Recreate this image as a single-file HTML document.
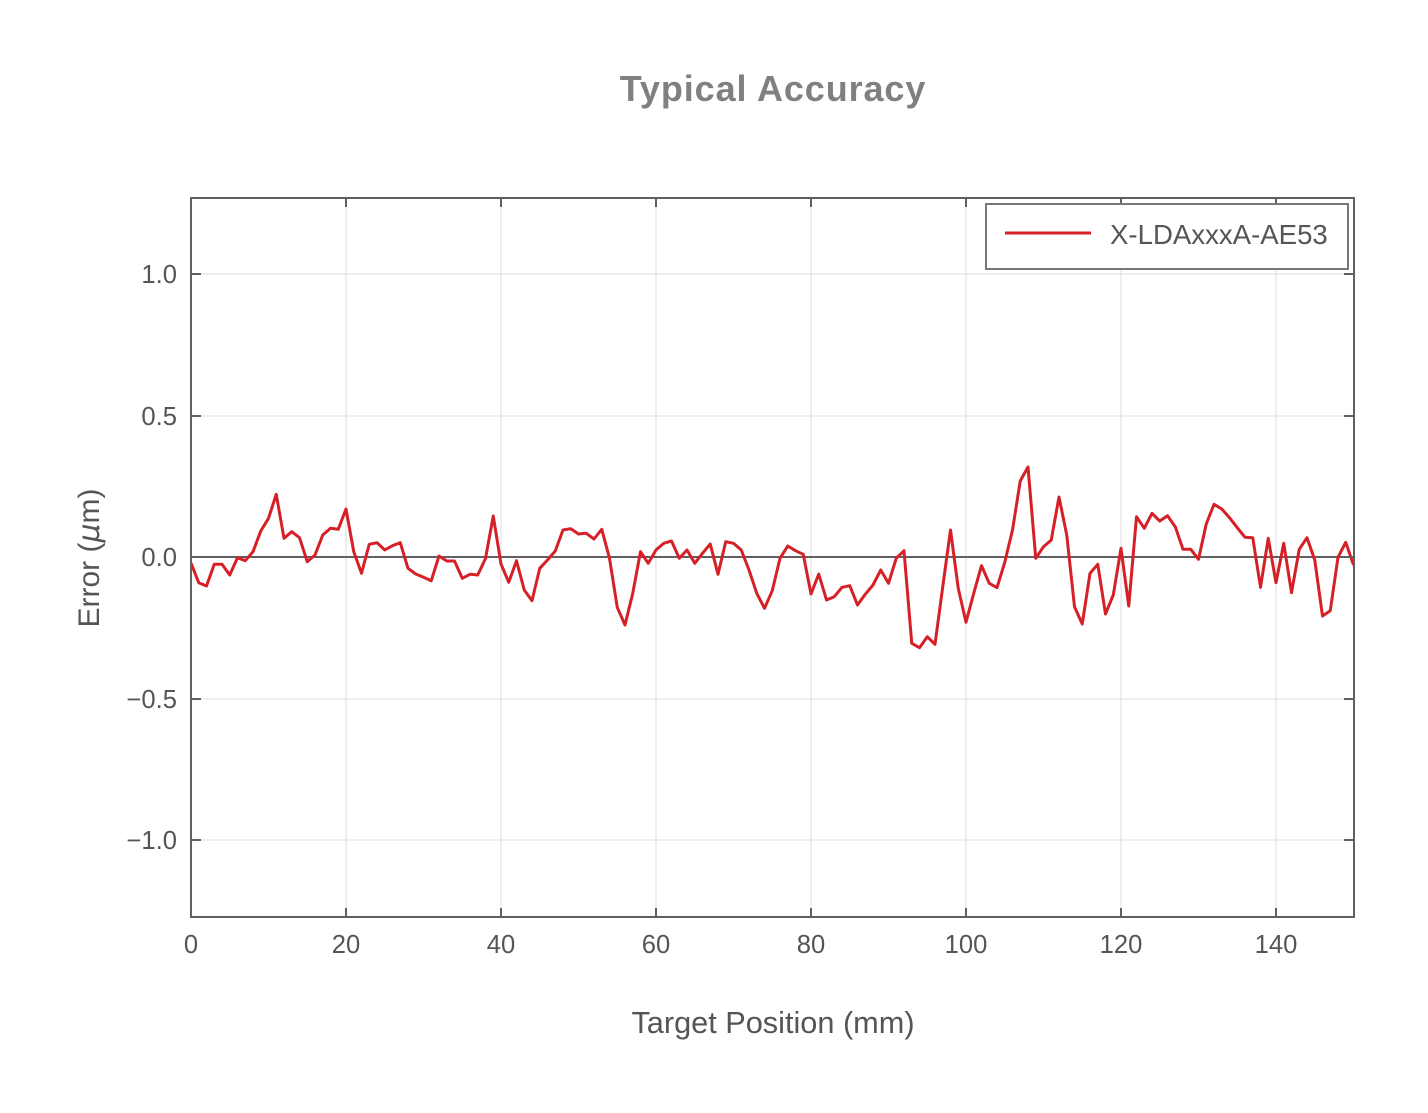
<!DOCTYPE html>
<html>
<head>
<meta charset="utf-8">
<style>
  html, body { margin: 0; padding: 0; background: #ffffff; }
  svg { display: block; }
  text { font-family: "Liberation Sans", Arial, sans-serif; fill: #555555; }
</style>
</head>
<body>
<svg width="1428" height="1113" viewBox="0 0 1428 1113" xmlns="http://www.w3.org/2000/svg">
  <rect x="0" y="0" width="1428" height="1113" fill="#ffffff"/>

  <!-- Title -->
  <text x="773" y="101" text-anchor="middle" font-size="36" font-weight="bold" letter-spacing="0.9" style="fill:#808080">Typical Accuracy</text>

  <!-- Grid -->
  <g stroke="#dddddd" stroke-width="1">
    <line x1="346" y1="198" x2="346" y2="917"/>
    <line x1="501" y1="198" x2="501" y2="917"/>
    <line x1="656" y1="198" x2="656" y2="917"/>
    <line x1="811" y1="198" x2="811" y2="917"/>
    <line x1="966" y1="198" x2="966" y2="917"/>
    <line x1="1121" y1="198" x2="1121" y2="917"/>
    <line x1="1276" y1="198" x2="1276" y2="917"/>
    <line x1="191" y1="274" x2="1354" y2="274"/>
    <line x1="191" y1="416" x2="1354" y2="416"/>
    <line x1="191" y1="699" x2="1354" y2="699"/>
    <line x1="191" y1="840" x2="1354" y2="840"/>
  </g>

  <!-- Zero line -->
  <line x1="191" y1="557" x2="1354" y2="557" stroke="#606060" stroke-width="2"/>

  <!-- Data -->
  <defs>
    <clipPath id="plotclip"><rect x="191" y="198" width="1163" height="719"/></clipPath>
  </defs>
  <polyline clip-path="url(#plotclip)" fill="none" stroke="#d62028" stroke-width="3" stroke-linejoin="round" points="
191,563 198.75,582.7 206.5,586 214.25,564.3 222,564.3 229.75,575 237.5,557.7 245.25,560.7 253,551.7 260.75,531
268.5,518.3 276.25,494.3 284,538.3 291.75,531.7 299.5,537.7 307.25,561.7 315,555 322.75,535 330.5,528.3 338.25,529.3
346,509 353.75,551.7 361.5,573.3 369.25,544.3 377,542.7 384.75,550 392.5,545.7 400.25,542.7 408,568.3 415.75,574
423.5,577.3 431.25,580.7 439,556 446.75,561 454.5,561 462.25,578.3 470,574.3 477.75,575 485.5,558.5 493.25,516
501,564 508.75,582.3 516.5,560.7 524.25,590 532,600.7 539.75,568.3 547.5,560 555.25,551 563,530 570.75,528.7
578.5,534 586.25,533.3 594,539 601.75,529.3 609.5,558.3 617.25,607.3 625,625 632.75,593.3 640.5,551.7 648.25,563.3
656,550 663.75,543.3 671.5,541 679.25,558.3 687,550 694.75,563.3 702.5,553.3 710.25,544 718,574.3 725.75,541.7
733.5,543.3 741.25,550 749,570 756.75,593.3 764.5,608.3 772.25,590.7 780,558.3 787.75,546 795.5,550.7 803.25,554.3
811,594 818.75,574 826.5,600 834.25,596.7 842,587.3 849.75,585.7 857.5,605 865.25,594.3 873,585 880.75,570
888.5,583.3 896.25,558.3 904,550.7 911.75,643.3 919.5,647.7 927.25,636.7 935,644.3 942.75,586.7 950.5,530 958.25,588.3
966,622.3 973.75,593.3 981.5,565.7 989.25,583.3 997,587.7 1004.75,562.3 1012.5,530 1020.25,481 1028,467 1035.75,558.3
1043.5,546.7 1051.25,540 1059,497 1066.75,535 1074.5,606.7 1082.25,624 1090,573.3 1097.75,564.3 1105.5,614 1113.25,595
1121,548.3 1128.75,606 1136.5,516.7 1144.25,528.3 1152,513.3 1159.75,521 1167.5,515.7 1175.25,526.7 1183,549.3 1190.75,549.3
1198.5,559.3 1206.25,524 1214,504.3 1221.75,509 1229.5,517.7 1237.25,527.7 1245,537.3 1252.75,537.7 1260.5,587.3 1268.25,538.3
1276,582.7 1283.75,543.3 1291.5,592.7 1299.25,549.3 1307,537.7 1314.75,560 1322.5,616 1330.25,610.7 1338,557.3 1345.75,542.3
1353.5,565"/>

  <!-- Ticks (inward, all sides) -->
  <g stroke="#606060" stroke-width="2">
    <line x1="346" y1="917" x2="346" y2="908"/>
    <line x1="501" y1="917" x2="501" y2="908"/>
    <line x1="656" y1="917" x2="656" y2="908"/>
    <line x1="811" y1="917" x2="811" y2="908"/>
    <line x1="966" y1="917" x2="966" y2="908"/>
    <line x1="1121" y1="917" x2="1121" y2="908"/>
    <line x1="1276" y1="917" x2="1276" y2="908"/>
    <line x1="346" y1="198" x2="346" y2="207"/>
    <line x1="501" y1="198" x2="501" y2="207"/>
    <line x1="656" y1="198" x2="656" y2="207"/>
    <line x1="811" y1="198" x2="811" y2="207"/>
    <line x1="966" y1="198" x2="966" y2="207"/>
    <line x1="1121" y1="198" x2="1121" y2="207"/>
    <line x1="1276" y1="198" x2="1276" y2="207"/>
    <line x1="191" y1="274" x2="201" y2="274"/>
    <line x1="191" y1="416" x2="201" y2="416"/>
    <line x1="191" y1="557" x2="201" y2="557"/>
    <line x1="191" y1="699" x2="201" y2="699"/>
    <line x1="191" y1="840" x2="201" y2="840"/>
    <line x1="1354" y1="274" x2="1344" y2="274"/>
    <line x1="1354" y1="416" x2="1344" y2="416"/>
    <line x1="1354" y1="557" x2="1344" y2="557"/>
    <line x1="1354" y1="699" x2="1344" y2="699"/>
    <line x1="1354" y1="840" x2="1344" y2="840"/>
  </g>

  <!-- Spines -->
  <rect x="191" y="198" width="1163" height="719" fill="none" stroke="#606060" stroke-width="2"/>

  <!-- Y tick labels -->
  <g font-size="25.6" text-anchor="end">
    <text x="177" y="283">1.0</text>
    <text x="177" y="425">0.5</text>
    <text x="177" y="566">0.0</text>
    <text x="177" y="708">−0.5</text>
    <text x="177" y="849">−1.0</text>
  </g>

  <!-- X tick labels -->
  <g font-size="25.6" text-anchor="middle">
    <text x="191" y="953">0</text>
    <text x="346" y="953">20</text>
    <text x="501" y="953">40</text>
    <text x="656" y="953">60</text>
    <text x="811" y="953">80</text>
    <text x="966" y="953">100</text>
    <text x="1121" y="953">120</text>
    <text x="1276" y="953">140</text>
  </g>

  <!-- Axis labels -->
  <text x="773" y="1033" text-anchor="middle" font-size="30.7">Target Position (mm)</text>
  <text transform="translate(99,558) rotate(-90)" text-anchor="middle" font-size="30">Error (<tspan font-style="italic" font-family="DejaVu Sans, sans-serif">μ</tspan>m)</text>

  <!-- Legend -->
  <rect x="986" y="204" width="362" height="65" fill="#ffffff" stroke="#777777" stroke-width="2"/>
  <line x1="1005" y1="233" x2="1091" y2="233" stroke="#d62028" stroke-width="3"/>
  <text x="1110" y="244" font-size="27.6">X-LDAxxxA-AE53</text>
</svg>
</body>
</html>
